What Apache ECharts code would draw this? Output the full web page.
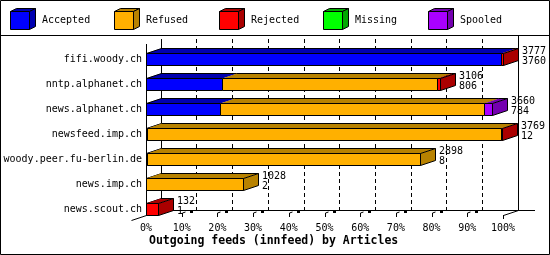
<!DOCTYPE html>
<html><head><meta charset="utf-8">
<script src="https://cdn.jsdelivr.net/npm/echarts@6/dist/echarts.min.js"></script>
<style>html,body{margin:0;padding:0;background:#fff}#c{width:550px;height:255px}</style>
</head><body><div id="c"></div>
<script>
// ---- data ----
const categories = ['fifi.woody.ch','nntp.alphanet.ch','news.alphanet.ch','newsfeed.imp.ch','woody.peer.fu-berlin.de','news.imp.ch','news.scout.ch'];
const statusNames = ['Accepted','Refused','Rejected','Missing','Spooled'];
const accepted = [3760, 806, 784, 12, 8, 2, 1];
const refused  = [0, 2268, 2796, 3740, 2890, 1026, 0];
const rejected = [17, 32, 0, 17, 0, 0, 131];
const missing  = [0, 0, 0, 0, 0, 0, 0];
const spooled  = [0, 0, 80, 0, 0, 0, 0];
const totals   = [3777, 3106, 3660, 3769, 2898, 1028, 132];
const xTicks   = [0,10,20,30,40,50,60,70,80,90,100];
const titleText = 'Outgoing feeds (innfeed) by Articles';

// ---- style ----
const statusValues = [accepted, refused, rejected, missing, spooled];
const frontColors = ['#0000FF','#FFB000','#FF0000','#00FF00','#AA00FF'];
const darkColors  = ['#0000B0','#B88200','#AA0000','#00A800','#7400B0'];
const FONT = '"DejaVu Sans Mono", "Liberation Mono", monospace';
const DX = 15, DY = 5;
const FL = 146, FR = 503, FB = 215;   // front plane
const BL = FL + DX, BR = FR + DX, BB = FB - DY, BT = 39; // back plane
const maxTotal = Math.max(...totals);
const pct = v => v / maxTotal * 100;

function makeRender(s) {
  return function (params, api) {
    const i = params.dataIndex;
    const v = statusValues[s][i];
    if (!v) return { type: 'group', children: [] };
    let start = 0;
    for (let k = 0; k < s; k++) start += statusValues[k][i];
    const end = start + v;
    let lastS = -1;
    for (let k = 0; k < statusValues.length; k++) if (statusValues[k][i] > 0) lastS = k;
    const x0 = Math.round(api.coord([pct(start), i])[0]);
    let x1 = Math.round(api.coord([pct(end), i])[0]);
    if (x1 <= x0) x1 = x0 + 1;
    const cy = Math.round(api.coord([0, i])[1]);
    const yt = cy - 6, yb = cy + 6;
    const ch = [];
    ch.push({ type: 'polygon', shape: { points: [[x0, yt + 0.5], [x0 + DX, yt - DY + 0.5], [x1 + DX + 0.5, yt - DY + 0.5], [x1 + 0.5, yt + 0.5]] },
      style: { fill: darkColors[s], stroke: null } });
    ch.push({ type: 'line', shape: { x1: x0 + DX, y1: yt - DY + 0.5, x2: x1 + DX + 0.5, y2: yt - DY + 0.5 }, style: { stroke: '#000', lineWidth: 1 } });
    if (start === 0) {
      ch.push({ type: 'line', shape: { x1: x0 + 0.5, y1: yt + 0.5, x2: x0 + DX + 0.5, y2: yt - DY + 0.5 }, style: { stroke: '#000', lineWidth: 1 } });
    }
    ch.push({ type: 'rect', shape: { x: x0 + 0.5, y: yt + 0.5, width: x1 - x0, height: yb - yt },
      style: { fill: frontColors[s], stroke: '#000', lineWidth: 1 } });
    if (s === lastS) {
      ch.push({ type: 'polygon', shape: { points: [[x1 + 0.5, yt + 0.5], [x1 + DX + 0.5, yt - DY + 0.5], [x1 + DX + 0.5, yb - DY + 0.5], [x1 + 0.5, yb + 0.5]] },
        style: { fill: darkColors[s], stroke: '#000', lineWidth: 1 } });
    }
    return { type: 'group', children: ch };
  };
}

function renderLabels(params, api) {
  const i = params.dataIndex;
  const xe = Math.round(api.coord([pct(totals[i]), i])[0]) + DX + 4;
  const cy = Math.round(api.coord([0, i])[1]);
  return { type: 'group', children: [
    { type: 'text', style: { text: String(totals[i]), x: xe, y: cy - 8, font: '10px ' + FONT, fill: '#000', align: 'left', verticalAlign: 'middle' } },
    { type: 'text', style: { text: String(accepted[i]), x: xe, y: cy + 2, font: '10px ' + FONT, fill: '#000', align: 'left', verticalAlign: 'middle' } }
  ] };
}

// ---- frame / legend graphics ----
const g = [];
const L = (x1, y1, x2, y2, dash) => g.push({ type: 'line', shape: { x1, y1, x2, y2 }, style: { stroke: '#000', lineWidth: 1, lineDash: dash || null } });
g.push({ type: 'rect', shape: { x: 0.5, y: 0.5, width: 549, height: 254 }, style: { fill: null, stroke: '#000', lineWidth: 1 } });
L(0, 35.5, 550, 35.5);
// back plane
L(BL + 0.5, BT, BL + 0.5, BB + 0.5);
L(BR + 0.5, 36, BR + 0.5, BB + 0.5);
L(FL, BB + 0.5, 535, BB + 0.5);
// front left
L(FL + 0.5, 44, FL + 0.5, FB + 0.5);
L(FL - DX + 0.5, FB + DY + 0.5, FL + 0.5, FB + 0.5);
L(FR + 0.5, FB + 0.5, BR + 0.5, BB + 0.5);
L(FR + 0.5, FB, FR + 0.5, FB + 4);
// ticks
for (let k = 1; k < xTicks.length - 1; k++) {
  const x = Math.round(FL + (FR - FL) * xTicks[k] / 100);
  L(x + 0.5, FB - 2, x + 0.5, FB + 2);
  L(x + 0.5, FB - 2, x + 3.5, FB - 3);
  g.push({ type: 'rect', shape: { x: x + 8, y: BB, width: 3, height: 3 }, style: { fill: '#000' } });
}
// legend
const legX = [10, 114, 219, 323, 428];
statusNames.forEach((name, s) => {
  const x = legX[s], y = 11, w = 19, h = 18, dx = 6, dy = 3;
  g.push({ type: 'polygon', shape: { points: [[x + 0.5, y + 0.5], [x + dx + 0.5, y - dy + 0.5], [x + w + dx + 0.5, y - dy + 0.5], [x + w + 0.5, y + 0.5]] }, style: { fill: darkColors[s], stroke: '#000', lineWidth: 1 } });
  g.push({ type: 'polygon', shape: { points: [[x + w + 0.5, y + 0.5], [x + w + dx + 0.5, y - dy + 0.5], [x + w + dx + 0.5, y + h - dy + 0.5], [x + w + 0.5, y + h + 0.5]] }, style: { fill: darkColors[s], stroke: '#000', lineWidth: 1 } });
  g.push({ type: 'rect', shape: { x: x + 0.5, y: y + 0.5, width: w, height: h }, style: { fill: frontColors[s], stroke: '#000', lineWidth: 1 } });
  g.push({ type: 'text', style: { text: name, x: x + 32, y: 20, font: '10px ' + FONT, fill: '#000', verticalAlign: 'middle' } });
});
g.push({ type: 'text', style: { text: titleText, x: 149, y: 241.5, font: 'bold 11.5px ' + FONT, fill: '#000', verticalAlign: 'middle' } });

const series = statusNames.map((name, s) => ({
  name, type: 'custom', coordinateSystem: 'cartesian2d', xAxisIndex: 0, yAxisIndex: 0,
  renderItem: makeRender(s), clip: false,
  data: statusValues[s].map((v, i) => [pct(v), i]), encode: { x: 0, y: 1 }, z: 3
}));
series.push({ name: 'labels', type: 'custom', coordinateSystem: 'cartesian2d', xAxisIndex: 0, yAxisIndex: 0,
  renderItem: renderLabels, clip: false, data: totals.map((v, i) => [pct(v), i]), encode: { x: 0, y: 1 }, z: 4 });

const chart = echarts.init(document.getElementById('c'), null, { renderer: 'canvas' });
chart.setOption({
  animation: false,
  backgroundColor: '#fff',
  grid: [
    { left: FL, width: FR - FL, top: 46.5, height: 175, containLabel: false },
    { left: BL, width: BR - BL, top: BT, bottom: 255 - BB, containLabel: false }
  ],
  xAxis: [
    { type: 'value', gridIndex: 0, min: 0, max: 100, interval: 10, axisLine: { show: false }, axisTick: { show: false }, splitLine: { show: false },
      axisLabel: { formatter: '{value}%', margin: 2, color: '#000', fontSize: 10, fontFamily: FONT } },
    { type: 'value', gridIndex: 1, min: 0, max: 100, interval: 10, axisLine: { show: false }, axisTick: { show: false }, axisLabel: { show: false },
      splitLine: { show: true, showMinLine: false, showMaxLine: false, lineStyle: { color: '#000', type: [4, 3], width: 1 } } }
  ],
  yAxis: [
    { type: 'category', gridIndex: 0, data: categories, inverse: true, axisLine: { show: false }, axisTick: { show: false }, splitLine: { show: false },
      axisLabel: { margin: 4, color: '#000', fontSize: 10, fontFamily: FONT } },
    { type: 'value', gridIndex: 1, show: false, splitLine: { show: false } }
  ],
  graphic: { elements: g },
  series
});
</script></body></html>
